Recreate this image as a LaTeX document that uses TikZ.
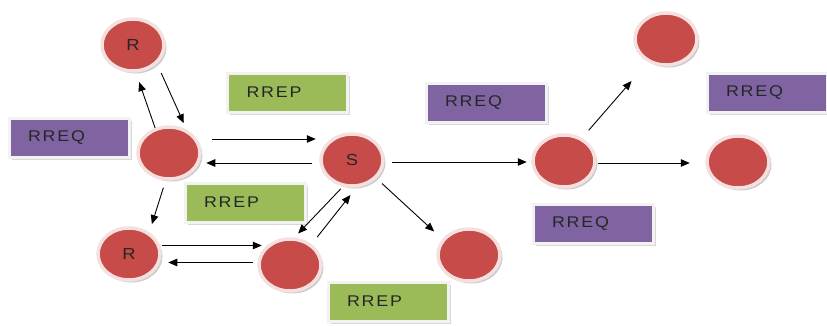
\documentclass[tikz,border=0pt]{standalone}
\usepackage{fontspec}
\setmainfont{Liberation Sans}
\newfontfamily\lab[FakeStretch=1.15,LetterSpace=12]{Liberation Sans}
\usetikzlibrary{shapes.geometric,arrows.meta,shadows}
\definecolor{nodered}{HTML}{C64B49}
\definecolor{ringc}{HTML}{F4E0DF}
\definecolor{boxgreen}{HTML}{9BBB59}
\definecolor{boxpurple}{HTML}{8064A2}
\definecolor{txt}{HTML}{262626}
\tikzset{
  netnode/.style={ellipse, minimum width=62pt, minimum height=52pt, inner sep=0pt,
    fill=nodered, draw=ringc, line width=3.5pt,
    drop shadow={shadow xshift=2.5pt, shadow yshift=-2.5pt, fill=black!40},
    text=txt, font=\lab\fontsize{16}{18}\selectfont},
  msgbox/.style={rectangle, minimum height=39pt, inner xsep=19pt, inner ysep=0pt,
    text width=82pt, align=left, draw=white!95!black, line width=3pt,
    drop shadow={shadow xshift=2.5pt, shadow yshift=-2.5pt, fill=black!30},
    text=txt, font=\lab\fontsize{15.5}{18}\selectfont},
  rrep/.style={msgbox, fill=boxgreen},
  rreq/.style={msgbox, fill=boxpurple},
  arr/.style={-{Triangle[length=9pt,width=7.5pt]}, line width=0.9pt, black}
}
\begin{document}
\begin{tikzpicture}[x=1pt,y=-1pt]
\useasboundingbox (0,0) rectangle (827,325);
% message boxes
\node[rreq] (q1) at (69,137.5) {RREQ};
\node[rrep] (p1) at (287.5,92.5) {RREP};
\node[rrep] (p2) at (245,202.5) {RREP};
\node[rrep] (p3) at (388,301.5) {RREP};
\node[rreq] (q2) at (486,102.5) {RREQ};
\node[rreq] (q3) at (767,92.5) {RREQ};
\node[rreq] (q4) at (593,224) {RREQ};
% nodes
\node[netnode] (Rt) at (133,45) {R};
\node[netnode] (A) at (169,153) {};
\node[netnode] (S) at (352,160) {S};
\node[netnode] (Rb) at (129,254) {R};
\node[netnode] (B) at (290,265) {};
\node[netnode] (C) at (469,255) {};
\node[netnode] (D) at (564,161) {};
\node[netnode] (E) at (666,39) {};
\node[netnode] (F) at (738,162) {};
% connectors
\draw[arr, shorten >=10pt] (A.119) -- (Rt.276);
\draw[arr, shorten <=10pt, shorten >=7pt] (Rt.-38) -- (A.53);
\draw[arr] ([shift={(10.5pt,14pt)}]A.east) -- ([shift={(-3.5pt,21pt)}]S.west);
\draw[arr] ([shift={(-7pt,-3pt)}]S.west) -- ([shift={(4.5pt,-10pt)}]A.east);
\draw[arr, shorten <=7.5pt, shorten >=8.5pt] (A.263) -- (Rb.47);
\draw[arr] ([shift={(0.5pt,8.5pt)}]Rb.east) -- ([shift={(4.5pt,19.5pt)}]B.west);
\draw[arr] ([shift={(-4.5pt,2.5pt)}]B.west) -- ([shift={(6.5pt,-8.5pt)}]Rb.east);
\draw[arr, shorten <=3pt, shorten >=5.5pt] (S.251) -- (B.81);
\draw[arr, shorten <=9pt, shorten >=9.5pt] (B.44) -- (S.279);
\draw[arr, shorten <=7.5pt, shorten >=11pt] (S.-37) -- (C.149);
\draw[arr] ([shift={(7.5pt,-2pt)}]S.east) -- ([shift={(-4.5pt,-1pt)}]D.west);
\draw[arr, shorten <=10pt, shorten >=25pt] (D.52) -- (E.232);
\draw[arr] ([shift={(1.5pt,-2pt)}]D.east) -- ([shift={(-15.5pt,-1pt)}]F.west);
\end{tikzpicture}
\end{document}
